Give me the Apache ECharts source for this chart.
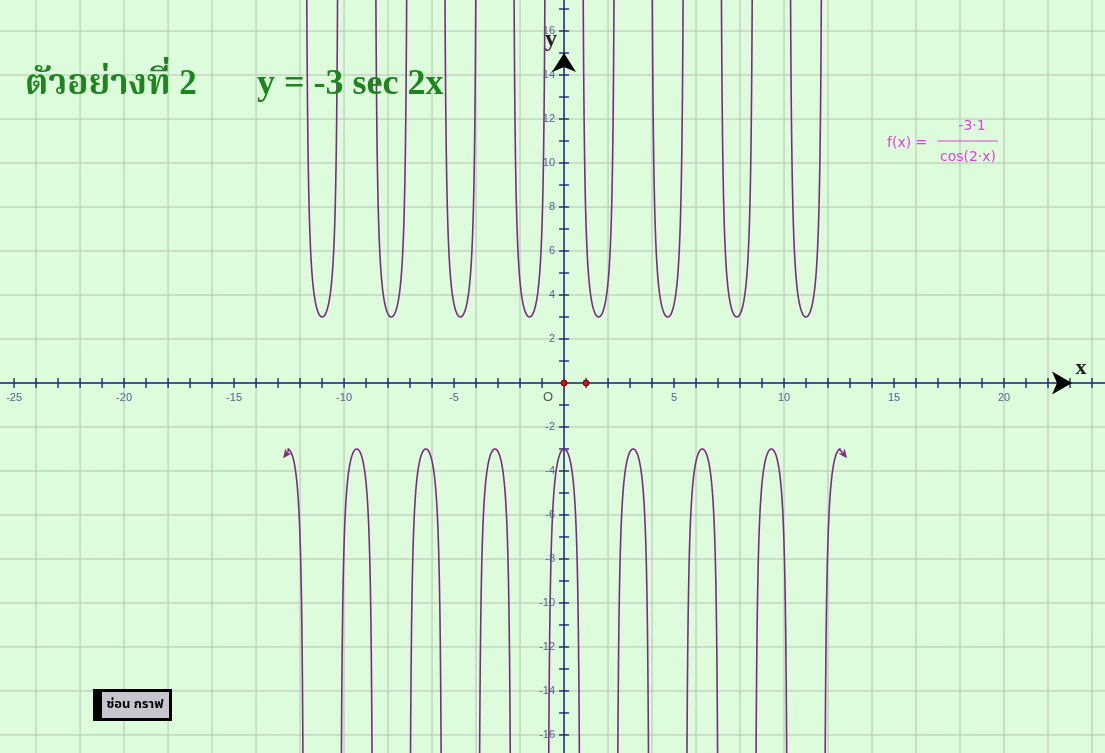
<!DOCTYPE html>
<html><head><meta charset="utf-8">
<script src="https://cdn.jsdelivr.net/npm/echarts@6/dist/echarts.min.js"></script>
<style>html,body{margin:0;padding:0;background:#ddfcdc;overflow:hidden}#c{width:1105px;height:753px}</style>
</head><body><div id="c"></div>
<script>
// ---- data ----
const xRange = [-25.64, 24.59];
const yRange = [-16.82, 17.41];
const gridXValues = [-24,-22,-20,-18,-16,-14,-12,-10,-8,-6,-4,-2,0,2,4,6,8,10,12,14,16,18,20,22,24];
const gridYValues = [-16,-14,-12,-10,-8,-6,-4,-2,0,2,4,6,8,10,12,14,16];
const xTickValues = [-25,-24,-23,-22,-21,-20,-19,-18,-17,-16,-15,-14,-13,-12,-11,-10,-9,-8,-7,-6,-5,-4,-3,-2,-1,1,2,3,4,5,6,7,8,9,10,11,12,13,14,15,16,17,18,19,20,21,22,23,24];
const yTickValues = [-16,-15,-14,-13,-12,-11,-10,-9,-8,-7,-6,-5,-4,-3,-2,-1,1,2,3,4,5,6,7,8,9,10,11,12,13,14,15,16,17];
const xLabelValues = [-25,-20,-15,-10,-5,5,10,15,20];
const yLabelValues = [-16,-14,-12,-10,-8,-6,-4,-2,2,4,6,8,10,12,14,16];
const amplitude = -3;          // y = -3 sec 2x
const frequency = 2;
const domain = [-4*Math.PI, 4*Math.PI];
const unitPoints = [[0,0],[1,0]];
// curve end arrow tips: [x, y, dirX, dirY] (direction in screen space)
const curveEndArrows = [[-12.77,-3.42,-0.6,0.8],[12.86,-3.42,0.6,0.8]];
// axis arrow tips: [x, y, dirX, dirY]
const axisArrows = [[23.09,0,1,0],[0,15.0,0,-1]];

// ---- build curve branches ----
const breaks = [domain[0]];
for (let k=-8;k<=7;k++){ breaks.push(Math.PI/4 + k*Math.PI/2); }
breaks.push(domain[1]);
const branches = [];
for (let j=0;j<breaks.length-1;j++){
  const a=breaks[j], b=breaks[j+1], N=800, pts=[];
  for (let i=0;i<=N;i++){
    const x=a+(b-a)*i/N;
    const c=Math.cos(frequency*x);
    if (Math.abs(c)<1e-9) continue;
    const y=amplitude/c;
    if (Math.abs(y)<=80) pts.push([x,y]);
  }
  branches.push(pts);
}

const gridColor='#b6c1b2', axisColor='#1b2878', curveColor='#7c2c80', labelColor='#55608a';
const labelFont='11px "Liberation Sans", Arial, sans-serif';

function vLine(params, api){
  const x=api.value(0);
  const p1=api.coord([x,yRange[0]]), p2=api.coord([x,yRange[1]]);
  return {type:'line',shape:{x1:p1[0],y1:p1[1],x2:p2[0],y2:p2[1]},style:{stroke:gridColor,lineWidth:1}};
}
function hLine(params, api){
  const y=api.value(1);
  const p1=api.coord([xRange[0],y]), p2=api.coord([xRange[1],y]);
  return {type:'line',shape:{x1:p1[0],y1:p1[1],x2:p2[0],y2:p2[1]},style:{stroke:gridColor,lineWidth:1}};
}
function axisLines(params, api){
  const a=api.coord([xRange[0],0]), b=api.coord([xRange[1],0]);
  const c=api.coord([0,yRange[0]]), d=api.coord([0,yRange[1]]);
  return {type:'group',children:[
    {type:'line',shape:{x1:a[0],y1:a[1],x2:b[0],y2:b[1]},style:{stroke:axisColor,lineWidth:1.5}},
    {type:'line',shape:{x1:c[0],y1:c[1],x2:d[0],y2:d[1]},style:{stroke:axisColor,lineWidth:1.5}}
  ]};
}
function xTick(params, api){
  const p=api.coord([api.value(0),0]);
  return {type:'line',shape:{x1:p[0],y1:p[1]-5,x2:p[0],y2:p[1]+5},style:{stroke:axisColor,lineWidth:1.4}};
}
function yTick(params, api){
  const p=api.coord([0,api.value(1)]);
  return {type:'line',shape:{x1:p[0]-5,y1:p[1],x2:p[0]+5,y2:p[1]},style:{stroke:axisColor,lineWidth:1.4}};
}
function xLabel(params, api){
  const v=api.value(0); const p=api.coord([v,0]);
  return {type:'text',x:p[0],y:p[1]+9,style:{text:String(v),fill:labelColor,font:labelFont,textAlign:'center',textVerticalAlign:'top'}};
}
function yLabel(params, api){
  const v=api.value(1); const p=api.coord([0,v]);
  return {type:'text',x:p[0]-9,y:p[1],style:{text:String(v),fill:labelColor,font:labelFont,textAlign:'right',textVerticalAlign:'middle'}};
}
function originLabel(params, api){
  const p=api.coord([0,0]);
  return {type:'text',x:p[0]-16,y:p[1]+8,style:{text:'O',fill:'#555',font:'13px "Liberation Sans", Arial, sans-serif',textAlign:'center',textVerticalAlign:'top'}};
}
function branchItem(params, api){
  const pts=branches[params.dataIndex].map(p=>api.coord(p));
  return {type:'polyline',shape:{points:pts},style:{stroke:curveColor,lineWidth:1.6,fill:null}};
}
function arrowHead(tip, d, len, half, notch, color){
  const n=[-d[1], d[0]];
  const b=[tip[0]-len*d[0], tip[1]-len*d[1]];
  const m=[tip[0]-notch*d[0], tip[1]-notch*d[1]];
  return [tip,[b[0]+half*n[0],b[1]+half*n[1]],m,[b[0]-half*n[0],b[1]-half*n[1]]];
}
function curveArrow(params, api){
  const tip=api.coord([api.value(0),api.value(1)]);
  const d=[api.value(2),api.value(3)];
  const poly=arrowHead(tip,d,9,4,6.5);
  const endX = d[0]<0 ? domain[0] : domain[1];
  const v=api.coord([endX, amplitude/Math.cos(frequency*endX)]);
  const base=[tip[0]-7*d[0], tip[1]-7*d[1]];
  return {type:'group',children:[
    {type:'bezierCurve',shape:{x1:v[0],y1:v[1],x2:base[0],y2:base[1],cpx1:v[0]-2*d[0]/Math.abs(d[0]),cpy1:v[1]},style:{stroke:curveColor,lineWidth:1.6,fill:null}},
    {type:'polygon',shape:{points:poly},style:{fill:curveColor}}
  ]};
}
function axisArrow(params, api){
  const tip=api.coord([api.value(0),api.value(1)]);
  const d=[api.value(2),api.value(3)];
  const horizontal = Math.abs(d[0])>0.5;
  const poly=arrowHead(tip,d,horizontal?20:19,horizontal?11.5:12,horizontal?15:14);
  return {type:'polygon',shape:{points:poly},style:{fill:'#000'}};
}
function unitPoint(params, api){
  const p=api.coord([api.value(0),api.value(1)]);
  return {type:'circle',shape:{cx:p[0],cy:p[1],r:3},style:{fill:'#c8161a',stroke:'#6a0000',lineWidth:1}};
}

const series=[
  {type:'custom',data:gridXValues.map(v=>[v,0]),renderItem:vLine,z:1,silent:true},
  {type:'custom',data:gridYValues.map(v=>[0,v]),renderItem:hLine,z:1,silent:true},
  {type:'custom',data:[[0,0]],renderItem:axisLines,z:2,silent:true},
  {type:'custom',data:xTickValues.map(v=>[v,0]),renderItem:xTick,z:2,silent:true},
  {type:'custom',data:yTickValues.map(v=>[0,v]),renderItem:yTick,z:2,silent:true},
  {type:'custom',data:branches.map(b=>b[0]),renderItem:branchItem,z:3,silent:true},
  {type:'custom',data:xLabelValues.map(v=>[v,0]),renderItem:xLabel,z:4,silent:true},
  {type:'custom',data:yLabelValues.map(v=>[0,v]),renderItem:yLabel,z:4,silent:true},
  {type:'custom',data:[[0,0]],renderItem:originLabel,z:4,silent:true},
  {type:'custom',data:curveEndArrows,renderItem:curveArrow,z:5,silent:true},
  {type:'custom',data:axisArrows,renderItem:axisArrow,z:6,silent:true},
  {type:'custom',data:unitPoints,renderItem:unitPoint,z:6,silent:true}
];

const chart=echarts.init(document.getElementById('c'),null,{renderer:'canvas'});
chart.setOption({
  backgroundColor:'#ddfcdc',
  animation:false,
  grid:{left:0,right:0,top:0,bottom:0},
  xAxis:{type:'value',min:xRange[0],max:xRange[1],show:false},
  yAxis:{type:'value',min:yRange[0],max:yRange[1],show:false},
  series:series,
  graphic:[
    {type:'text',x:25,y:85,z:10,style:{text:'ตัวอย่างที่ 2',font:'bold 35px "Liberation Serif","Noto Serif Thai","Noto Sans Thai",serif',fill:'#1e841e',textVerticalAlign:'middle'}},
    {type:'text',x:257,y:85,z:10,style:{text:'y = -3 sec 2x',font:'bold 36px "Liberation Serif", serif',fill:'#1e841e',textVerticalAlign:'middle'}},
    {type:'text',x:551,y:40,z:10,style:{text:'y',font:'bold 24px "Liberation Serif", serif',fill:'#222',textAlign:'center',textVerticalAlign:'middle'}},
    {type:'text',x:1081,y:368,z:10,style:{text:'x',font:'bold 22px "Liberation Serif", serif',fill:'#222',textAlign:'center',textVerticalAlign:'middle'}},
    {type:'text',x:887,y:143,z:10,style:{text:'f(x) =',font:'14px "DejaVu Sans", sans-serif',fill:'#dc44dc',textVerticalAlign:'middle'}},
    {type:'text',x:972,y:126,z:10,style:{text:'-3·1',font:'14px "DejaVu Sans", sans-serif',fill:'#dc44dc',textAlign:'center',textVerticalAlign:'middle'}},
    {type:'line',z:10,shape:{x1:937,y1:141,x2:998,y2:141},style:{stroke:'#dc44dc',lineWidth:1}},
    {type:'text',x:968,y:157,z:10,style:{text:'cos(2·x)',font:'14px "DejaVu Sans", sans-serif',fill:'#dc44dc',textAlign:'center',textVerticalAlign:'middle'}},
    {type:'rect',z:10,shape:{x:93,y:689,width:79,height:32},style:{fill:'#000'}},
    {type:'rect',z:11,shape:{x:102,y:692,width:67,height:26},style:{fill:'#c6c6ce'}},
    {type:'text',x:135,y:705,z:12,style:{text:'ซ่อน กราฟ',font:'bold 13px "Noto Sans Thai","Liberation Sans",sans-serif',fill:'#000',textAlign:'center',textVerticalAlign:'middle'}}
  ]
});
</script></body></html>
